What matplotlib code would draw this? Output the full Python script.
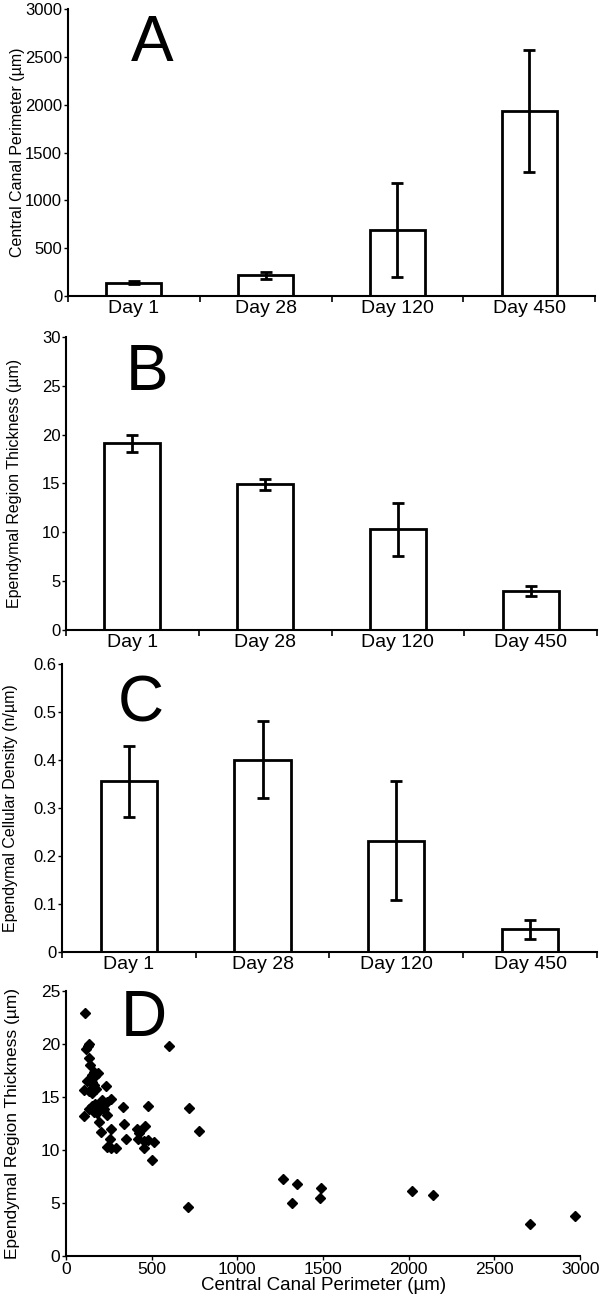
import matplotlib
matplotlib.use("Agg")
import matplotlib.pyplot as plt

plt.rcParams['font.family'] = ['Liberation Sans', 'DejaVu Sans']

days = ["Day 1", "Day 28", "Day 120", "Day 450"]

# Panel A: central canal perimeter (um)
perimeter = [139, 215, 691, 1936]
perimeter_err = [15, 35, 488, 636]

# Panel B: ependymal region thickness (um)
thickness = [19.1, 14.9, 10.3, 4.0]
thickness_err = [0.9, 0.55, 2.75, 0.55]

# Panel C: ependymal cellular density (n/um)
density = [0.356, 0.401, 0.232, 0.047]
density_err = [0.074, 0.080, 0.124, 0.019]

# Panel D: scatter of thickness vs perimeter
scatter_x = [108, 126, 117, 136, 136, 142, 161, 187, 152, 171,
             233, 161, 175, 152, 105, 136, 262, 210, 239, 171,
             200, 152, 219, 181, 132, 161, 239, 330, 476, 715,
             103, 194, 340, 463, 414, 433, 206, 264, 774, 259,
             350, 239, 264, 292, 418, 453, 476, 511, 453, 503,
             428, 603, 710, 1266, 1348, 1318, 1488, 1484, 2016, 2139,
             2709, 2967, 145, 190, 225, 120, 150, 180]
scatter_y = [22.9, 19.8, 19.5, 20.0, 18.7, 18.0, 17.4, 17.3, 17.1, 17.0,
             16.0, 16.1, 15.8, 15.4, 15.7, 15.6, 14.85, 14.7, 14.5, 14.3,
             14.1, 14.2, 13.9, 13.6, 13.9, 13.6, 13.3, 14.1, 14.2, 14.0,
             13.2, 12.6, 12.5, 12.3, 12.0, 11.8, 11.7, 12.0, 11.8, 11.0,
             11.0, 10.3, 10.15, 10.2, 11.0, 10.85, 10.95, 10.8, 10.2, 9.06,
             11.6, 19.8, 4.6, 7.3, 6.8, 5.0, 6.4, 5.5, 6.1, 5.8,
             3.0, 3.8, 14.0, 13.8, 14.4, 16.5, 16.4, 13.5]

fig = plt.figure(figsize=(6, 13), dpi=100)

bar_panels = [
    ([0.113, 0.7723, 0.879, 0.2205], perimeter, perimeter_err,
     "Central Canal Perimeter (µm)", (0, 3000), [0, 500, 1000, 1500, 2000, 2500, 3000],
     "A", (0.253, 0.966)),
    ([0.110, 0.5154, 0.885, 0.2254], thickness, thickness_err,
     "Ependymal Region Thickness (µm)", (0, 30), [0, 5, 10, 15, 20, 25, 30],
     "B", (0.245, 0.713)),
    ([0.103, 0.2677, 0.892, 0.2215], density, density_err,
     "Ependymal Cellular Density (n/µm)", (0, 0.6), [0, 0.1, 0.2, 0.3, 0.4, 0.5, 0.6],
     "C", (0.235, 0.458)),
]

for rect, vals, errs, ylabel, ylim, yticks, letter, lpos in bar_panels:
    ax = fig.add_axes(rect)
    pos = list(range(len(days)))
    ax.bar(pos, vals, width=0.42, color='white', edgecolor='black', linewidth=2)
    ax.errorbar(pos, vals, yerr=errs, fmt='none', ecolor='black',
                elinewidth=2, capsize=4, capthick=2)
    ax.set_xlim(-0.5, 3.5)
    ax.set_ylim(*ylim)
    ax.set_yticks(yticks)
    ax.set_yticklabels([f"{t:g}" for t in yticks])
    ax.set_xticks([-0.5, 0.5, 1.5, 2.5, 3.5])
    ax.set_xticklabels([])
    ax.set_xticks(pos, minor=True)
    ax.set_xticklabels(days, minor=True, fontsize=14)
    ax.tick_params(axis='x', which='minor', length=0, pad=3)
    ax.tick_params(axis='x', which='major', length=4, width=1.2)
    ax.tick_params(axis='y', length=3, width=1, labelsize=12, pad=1)
    for s in ['top', 'right']:
        ax.spines[s].set_visible(False)
    for s in ['left', 'bottom']:
        ax.spines[s].set_linewidth(1.5)
    ax.set_ylabel(ylabel, fontsize=11.5)
    ax.yaxis.set_label_coords(-0.082, 0.5)
    fig.text(lpos[0], lpos[1], letter, fontsize=46, ha='center', va='center')

# Panel D
ax = fig.add_axes([0.110, 0.0338, 0.857, 0.2039])
ax.plot(scatter_x, scatter_y, linestyle='none', marker='D', markersize=5.5,
        color='black')
ax.set_xlim(0, 3000)
ax.set_ylim(0, 25)
ax.set_xticks([0, 500, 1000, 1500, 2000, 2500, 3000])
ax.set_yticks([0, 5, 10, 15, 20, 25])
ax.tick_params(axis='both', length=3, width=1, labelsize=12.5, pad=1)
for s in ['top', 'right']:
    ax.spines[s].set_visible(False)
for s in ['left', 'bottom']:
    ax.spines[s].set_linewidth(1.5)
ax.set_xlabel("Central Canal Perimeter (µm)", fontsize=13.5, labelpad=0)
ax.set_ylabel("Ependymal Region Thickness (µm)", fontsize=12.5)
ax.yaxis.set_label_coords(-0.09, 0.5)
fig.text(0.24, 0.216, "D", fontsize=46, ha='center', va='center')

fig.savefig("out.png", dpi=100)
